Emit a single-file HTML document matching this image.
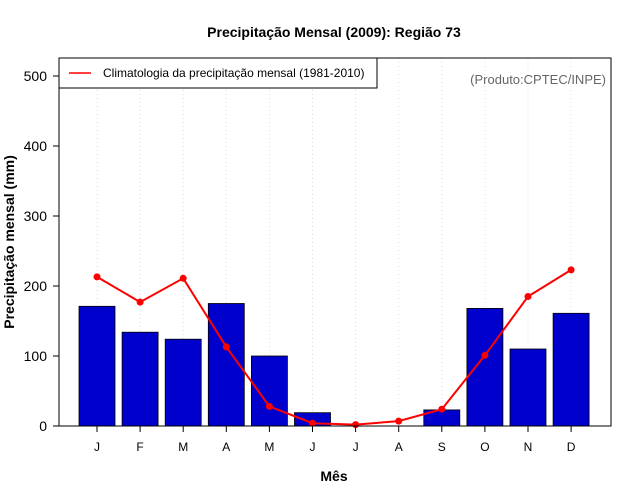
<!DOCTYPE html>
<html><head><meta charset="utf-8"><style>body{margin:0;background:#fff}svg{display:block;font-family:"Liberation Sans",sans-serif}</style></head>
<body>
<svg id="c" width="640" height="500"></svg>
<script>
const months=["J","F","M","A","M","J","J","A","S","O","N","D"];
const precip2009=[171,134,124,175,100,19,0,0,23,168,110,161];
const climatology=[213,177,211,113,28,4,2,7,24,101,185,223];
const yTicks=[0,100,200,300,400,500];
const NS="http://www.w3.org/2000/svg";
const svg=document.getElementById("c");
const L=59,R=611,T=58,B=426;
const x0=97,dx=43.1;
const xs=i=>x0+i*dx;
const ys=v=>426-v*0.7;
function el(t,a,txt){const e=document.createElementNS(NS,t);for(const k in a)e.setAttribute(k,a[k]);if(txt!=null)e.textContent=txt;svg.appendChild(e);return e;}
let e;
e=el("text",{x:334,y:37,"text-anchor":"middle","font-size":14,"font-weight":"bold"},"Precipitação Mensal (2009): Região 73");


months.forEach((m,i)=>{
e=el("line",{x1:xs(i),x2:xs(i),y1:T,y2:B,stroke:"#ddd","stroke-dasharray":"1,3"});


});
precip2009.forEach((v,i)=>{
e=el("rect",{x:xs(i)-18,y:ys(v),width:36,height:B-ys(v),fill:"#0000cd",stroke:"#000","stroke-width":0.8});


});
e=el("polyline",{points:climatology.map((v,i)=>xs(i)+","+ys(v)).join(" "),fill:"none",stroke:"#f00","stroke-width":2});


climatology.forEach((v,i)=>{
e=el("circle",{cx:xs(i),cy:ys(v),r:3.5,fill:"#f00"});


});
e=el("rect",{x:L,y:T,width:R-L,height:B-T,fill:"none",stroke:"#000"});


yTicks.forEach(t=>{
el("line",{x1:L-6,x2:L,y1:ys(t),y2:ys(t),stroke:"#000"});
e=el("text",{x:L-12,y:ys(t)+5,"text-anchor":"end","font-size":14},t);


});
months.forEach((m,i)=>{
el("line",{x1:xs(i),x2:xs(i),y1:B,y2:B+6,stroke:"#000"});
e=el("text",{x:xs(i),y:451,"text-anchor":"middle","font-size":12},m);


});
e=el("text",{x:334,y:481,"text-anchor":"middle","font-size":14,"font-weight":"bold"},"Mês");


e=el("text",{x:14,y:242,"text-anchor":"middle","font-size":14,"font-weight":"bold",transform:"rotate(-90 14 242)"},"Precipitação mensal (mm)");


e=el("rect",{x:L,y:T,width:318,height:30,fill:"#fff",stroke:"#000"});


el("line",{x1:69,x2:91,y1:73,y2:73,stroke:"#f00","stroke-width":1.5});
e=el("text",{x:103,y:77,"font-size":12},"Climatologia da precipitação mensal (1981-2010)");


e=el("text",{x:606,y:84,"text-anchor":"end","font-size":13,fill:"#666"},"(Produto:CPTEC/INPE)");


</script>
</body></html>
